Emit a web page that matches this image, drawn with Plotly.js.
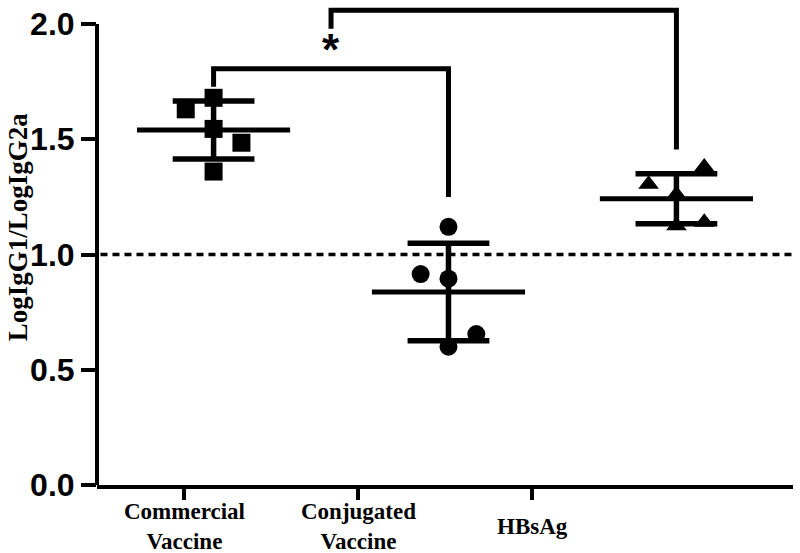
<!DOCTYPE html>
<html>
<head>
<meta charset="utf-8">
<script src="https://cdn.plot.ly/plotly-3.0.1.min.js"></script>
<style>
  html, body { margin: 0; padding: 0; background: #ffffff; }
  #chart { width: 800px; height: 553px; }
</style>
</head>
<body>
<div id="chart"></div>
<script>
// -- Data --------------------------------------------------------------------
var groupLabels = ['Commercial<br>Vaccine', 'Conjugated<br>Vaccine', 'HBsAg'];

var commercial = [1.68, 1.63, 1.545, 1.485, 1.36];
var conjugated = [1.12, 0.915, 0.895, 0.655, 0.60];
var hbsag      = [1.38, 1.305, 1.26, 1.125, 1.14];

// column slot of each point (-1 left, 0 centre, 1 right), as GraphPad scattered them
var commercialSlot = [0, -1, 0, 1, 0];
var conjugatedSlot = [0, -1, 0, 1, 0];
var hbsagSlot      = [1, -1, 0, 0, 1];

var referenceLevel = 1.0;

// significance brackets: [bar height, left leg end, right leg end]
var bracketLow  = [1.806, 1.728, 1.25];
var bracketHigh = [2.06, 1.98, 1.456];
var sigMark = '*';

// -- Layout constants --------------------------------------------------------
var INK = '#000000';
var GROUP_X = [0.67, 2.02, 3.33];  // where the dots sit
var TICK_X  = [0.5, 1.5, 2.5];     // where the category ticks sit
var SLOT_STEP = 0.16;
var MEAN_HALF = 0.44;
var CAP_HALF  = 0.235;
var SYMBOLS = ['square', 'circle', 'triangle-up'];
var SIZES   = [18, 18, 18];

function mean(a) {
  var s = 0;
  for (var i = 0; i < a.length; i++) s += a[i];
  return s / a.length;
}

function sd(a) {
  var m = mean(a), s = 0;
  for (var i = 0; i < a.length; i++) s += (a[i] - m) * (a[i] - m);
  return Math.sqrt(s / (a.length - 1));
}

function lineTrace(xs, ys, width) {
  return {
    type: 'scatter', mode: 'lines', x: xs, y: ys,
    line: { color: INK, width: width }, hoverinfo: 'skip', showlegend: false
  };
}

var series = [commercial, conjugated, hbsag];
var slots = [commercialSlot, conjugatedSlot, hbsagSlot];
var lines = [];
var dots = [];

for (var g = 0; g < series.length; g++) {
  var vals = series[g];
  var cx = GROUP_X[g];
  var m = mean(vals), s = sd(vals);

  var xs = [];
  for (var i = 0; i < vals.length; i++) xs.push(cx + slots[g][i] * SLOT_STEP);
  dots.push({
    type: 'scatter', mode: 'markers', x: xs, y: vals,
    marker: { symbol: SYMBOLS[g], size: SIZES[g], color: INK, line: { width: 0 } },
    showlegend: false, cliponaxis: false
  });

  // mean
  lines.push(lineTrace([cx - MEAN_HALF, cx + MEAN_HALF], [m, m], 5));
  // SD whisker with caps
  lines.push(lineTrace(
    [cx, cx, null, cx - CAP_HALF, cx + CAP_HALF, null, cx - CAP_HALF, cx + CAP_HALF],
    [m - s, m + s, null, m + s, m + s, null, m - s, m - s],
    5.5
  ));
}

// brackets
var lowMid = (GROUP_X[0] + GROUP_X[1]) / 2;
lines.push(lineTrace(
  [GROUP_X[0], GROUP_X[0], GROUP_X[1], GROUP_X[1]],
  [bracketLow[1], bracketLow[0], bracketLow[0], bracketLow[2]], 5));
lines.push(lineTrace(
  [lowMid, lowMid, GROUP_X[2], GROUP_X[2]],
  [bracketHigh[1], bracketHigh[0], bracketHigh[0], bracketHigh[2]], 5));

var annotations = [];
for (var k = 0; k < groupLabels.length; k++) {
  annotations.push({
    text: groupLabels[k], xref: 'x', yref: 'paper', x: TICK_X[k], y: -0.085,
    xanchor: 'center', yanchor: 'middle', showarrow: false,
    font: { family: 'Liberation Serif, Times New Roman, serif', size: 23, weight: 700, color: INK }
  });
}
annotations.push({
  text: 'LogIgG1/LogIgG2a', xref: 'paper', yref: 'paper', x: -0.114, y: 0.534,
  xanchor: 'center', yanchor: 'middle', textangle: -90, showarrow: false,
  font: { family: 'Liberation Serif, Times New Roman, serif', size: 27, weight: 700, color: INK }
});
annotations.push({
  text: sigMark, xref: 'x', yref: 'y', x: lowMid, y: 1.89,
  xanchor: 'center', yanchor: 'middle', showarrow: false,
  font: { family: 'Liberation Sans, Arial, sans-serif', size: 44, weight: 700, color: INK }
});

var layout = {
  width: 800, height: 553,
  margin: { l: 97, r: 7, t: 1, b: 68 },
  paper_bgcolor: '#ffffff', plot_bgcolor: '#ffffff',
  showlegend: false,
  xaxis: {
    range: [0, 4], showgrid: false, zeroline: false,
    showline: true, linewidth: 4, linecolor: INK,
    ticks: 'outside', tickvals: TICK_X, ticklen: 11, tickwidth: 4, tickcolor: INK,
    showticklabels: false, fixedrange: true
  },
  yaxis: {
    range: [0, 2.1], showgrid: false, zeroline: false, showline: false,
    tick0: 0, dtick: 0.5, tickformat: '.1f',
    ticks: 'outside', ticklen: 15, tickwidth: 4, tickcolor: INK,
    tickfont: { family: 'Liberation Sans, Arial, sans-serif', size: 32, weight: 700, color: INK },
    fixedrange: true
  },
  shapes: [
    // y axis line, stops at 2.0 like the original
    { type: 'line', xref: 'paper', yref: 'y', x0: 0, x1: 0, y0: 0, y1: 2,
      line: { color: INK, width: 4 } },
    // reference line at 1.0
    { type: 'line', xref: 'paper', yref: 'y', x0: 0.005, x1: 1, y0: referenceLevel, y1: referenceLevel,
      line: { color: INK, width: 3.5, dash: '7px,5px' } }
  ],
  annotations: annotations
};

Plotly.newPlot('chart', lines.concat(dots), layout, { displayModeBar: false, staticPlot: true });
</script>
</body>
</html>
